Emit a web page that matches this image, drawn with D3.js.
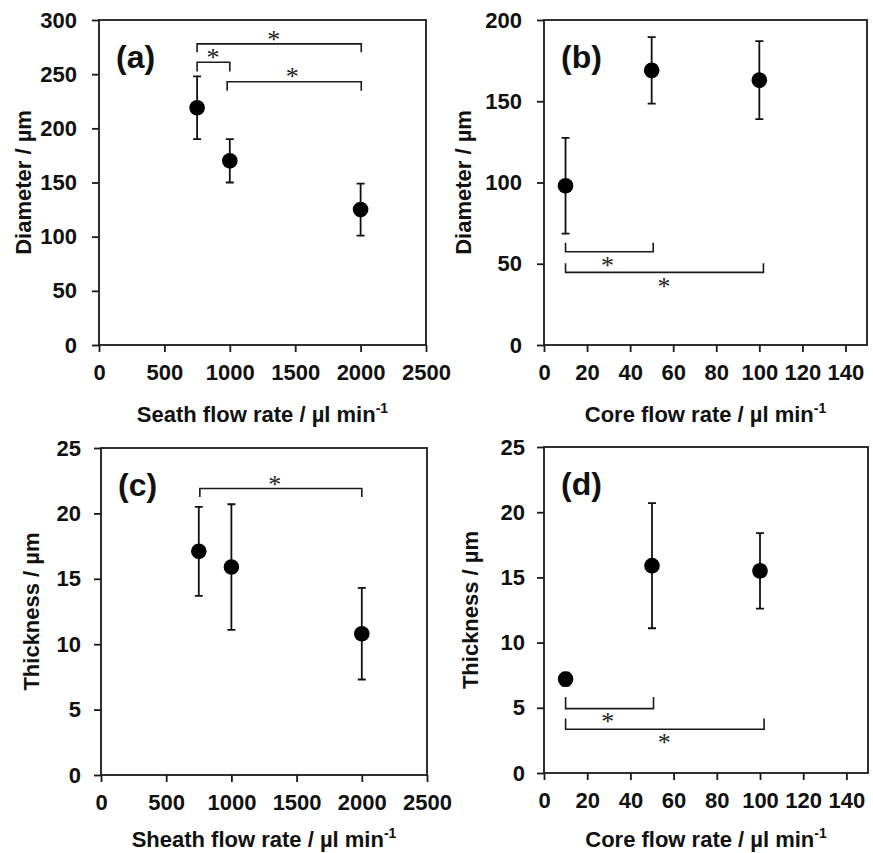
<!DOCTYPE html>
<html><head><meta charset="utf-8">
<script src="https://cdn.jsdelivr.net/npm/d3@7"></script>
<style>
body{margin:0;background:#fff;}
svg{display:block;}
</style>
</head><body>
<svg id="chart" width="873" height="853"></svg>
<script>
// ---------- data ----------
const sheathRatesA = [750, 1000, 2000];
const diameterA    = [219, 170, 125];
const diameterAErr = [29, 20, 24];

const coreRatesB   = [10, 50, 100];
const diameterB    = [98, 169, 163];
const diameterBErr = [29.5, 20.5, 24];

const sheathRatesC = [750, 1000, 2000];
const thicknessC   = [17.1, 15.9, 10.8];
const thicknessCErr= [3.4, 4.8, 3.5];

const coreRatesD   = [10, 50, 100];
const thicknessD   = [7.2, 15.9, 15.5];
const thicknessDErr= [0.5, 4.8, 2.9];

const sheathTicks   = [0, 500, 1000, 1500, 2000, 2500];
const coreTicks     = [0, 20, 40, 60, 80, 100, 120, 140];
const diameterTicksA= [0, 50, 100, 150, 200, 250, 300];
const diameterTicksB= [0, 50, 100, 150, 200];
const thicknessTicks= [0, 5, 10, 15, 20, 25];

// significance brackets: [x1, x2, yLine, yEnd, starX, starY]
const bracketsA = [[750, 2005, 278, 270.2, 1336, 285.2],
                   [750, 1000, 261, 252.5, 872, 268.3],
                   [980, 2005, 243, 234.7, 1478, 250.8]];
const bracketsB = [[10, 50.7, 57.4, 63.0, 29.5, 51.3],
                   [10, 101.9, 44.7, 50.3, 55.7, 38.0]];
const bracketsC = [[758, 2000, 21.9, 21.25, 1332, 22.44]];
const bracketsD = [[10, 50.7, 4.94, 5.83, 29.5, 4.22],
                   [10, 101.9, 3.35, 4.17, 55.7, 2.64]];

const panelLabels = ["(a)", "(b)", "(c)", "(d)"];

// ---------- drawing ----------
const svg = d3.select("#chart");
const SANS = "'Liberation Sans', Arial, Helvetica, sans-serif";
const SERIF = "'Liberation Serif', 'Times New Roman', serif";
const INK = "#1a1a1a";

function panel(cfg){
  const g = svg.append("g").attr("transform", `translate(${cfg.left},${cfg.top})`);
  const x = d3.scaleLinear().domain(cfg.xDomain).range([0, cfg.w]);
  const y = d3.scaleLinear().domain(cfg.yDomain).range([cfg.h, 0]);

  // axes
  const xa = g.append("g").attr("transform", `translate(0,${cfg.h})`)
    .call(d3.axisBottom(x).tickValues(cfg.xTicks).tickSize(7).tickPadding(12).tickFormat(d3.format("d")));
  const ya = g.append("g")
    .call(d3.axisLeft(y).tickValues(cfg.yTicks).tickSize(7).tickPadding(cfg.yPad).tickFormat(d3.format("d")));
  [xa, ya].forEach(a => {
    a.select(".domain").remove();
    a.selectAll("line").attr("stroke", INK).attr("stroke-width", 1.8);
    a.selectAll("text").attr("font-family", SANS).attr("font-size", 22)
      .attr("font-weight", "bold").attr("fill", "#111");
  });

  // frame
  g.append("rect").attr("width", cfg.w).attr("height", cfg.h)
    .attr("fill", "none").attr("stroke", INK).attr("stroke-width", 1.8);

  // brackets
  cfg.brackets.forEach(b => {
    const [x1, x2, yl, ye, sx, sy] = b;
    g.append("path")
      .attr("d", `M${x(x1)},${y(ye)}V${y(yl)}H${x(x2)}V${y(ye)}`)
      .attr("fill", "none").attr("stroke", INK).attr("stroke-width", 1.6);
    g.append("text").attr("x", x(sx)).attr("y", y(sy) + 12)
      .attr("text-anchor", "middle").attr("font-family", SERIF)
      .attr("font-size", 26).attr("fill", "#222").text("*");
  });

  // error bars
  const cap = 4;
  cfg.xs.forEach((xv, i) => {
    const yv = cfg.ys[i], e = cfg.errs[i];
    const px = x(xv);
    g.append("path")
      .attr("d", `M${px},${y(yv - e)}V${y(yv + e)}M${px - cap},${y(yv + e)}H${px + cap}M${px - cap},${y(yv - e)}H${px + cap}`)
      .attr("fill", "none").attr("stroke", "#111").attr("stroke-width", 1.8);
  });
  // points
  g.selectAll("circle.pt").data(cfg.xs.map((xv, i) => [xv, cfg.ys[i]])).enter()
    .append("circle").attr("class", "pt")
    .attr("cx", d => x(d[0])).attr("cy", d => y(d[1])).attr("r", 7.8).attr("fill", "#000");

  // panel label
  g.append("text").attr("x", 17).attr("y", 48)
    .attr("font-family", SANS).attr("font-size", 32).attr("font-weight", "bold")
    .attr("fill", "#111").text(cfg.label);

  // x title
  const xt = g.append("text").attr("x", cfg.w / 2).attr("y", cfg.h + cfg.xTitleDy)
    .attr("text-anchor", "middle").attr("font-family", SANS).attr("font-size", 22)
    .attr("font-weight", "bold").attr("fill", "#111");
  xt.append("tspan").text(cfg.xTitle);
  xt.append("tspan").attr("font-size", 14).attr("dy", -9).text("-1");

  // y title
  g.append("text").attr("transform", `translate(${cfg.yTitleX},${cfg.h / 2}) rotate(-90)`)
    .attr("text-anchor", "middle").attr("font-family", SANS).attr("font-size", 22)
    .attr("font-weight", "bold").attr("fill", "#111").text(cfg.yTitle);
}

panel({left: 99, top: 20, w: 327, h: 325, xDomain: [0, 2500], yDomain: [0, 300],
  xTicks: sheathTicks, yTicks: diameterTicksA, yPad: 15,
  xs: sheathRatesA, ys: diameterA, errs: diameterAErr, brackets: bracketsA,
  label: panelLabels[0], xTitle: "Seath flow rate / µl min", xTitleDy: 77,
  yTitle: "Diameter / µm", yTitleX: 31 - 99});

panel({left: 544, top: 20, w: 323, h: 325, xDomain: [0, 150], yDomain: [0, 200],
  xTicks: coreTicks, yTicks: diameterTicksB, yPad: 15,
  xs: coreRatesB, ys: diameterB, errs: diameterBErr, brackets: bracketsB,
  label: panelLabels[1], xTitle: "Core flow rate / µl min", xTitleDy: 77,
  yTitle: "Diameter / µm", yTitleX: 471 - 544});

panel({left: 101, top: 448, w: 326, h: 327, xDomain: [0, 2500], yDomain: [0, 25],
  xTicks: sheathTicks, yTicks: thicknessTicks, yPad: 13,
  xs: sheathRatesC, ys: thicknessC, errs: thicknessCErr, brackets: bracketsC,
  label: panelLabels[2], xTitle: "Sheath flow rate / µl min", xTitleDy: 72,
  yTitle: "Thickness / µm", yTitleX: 39 - 101});

panel({left: 544, top: 447, w: 324, h: 326, xDomain: [0, 150], yDomain: [0, 25],
  xTicks: coreTicks, yTicks: thicknessTicks, yPad: 12,
  xs: coreRatesD, ys: thicknessD, errs: thicknessDErr, brackets: bracketsD,
  label: panelLabels[3], xTitle: "Core flow rate / µl min", xTitleDy: 74,
  yTitle: "Thickness / µm", yTitleX: 478 - 544});
</script>
</body></html>
